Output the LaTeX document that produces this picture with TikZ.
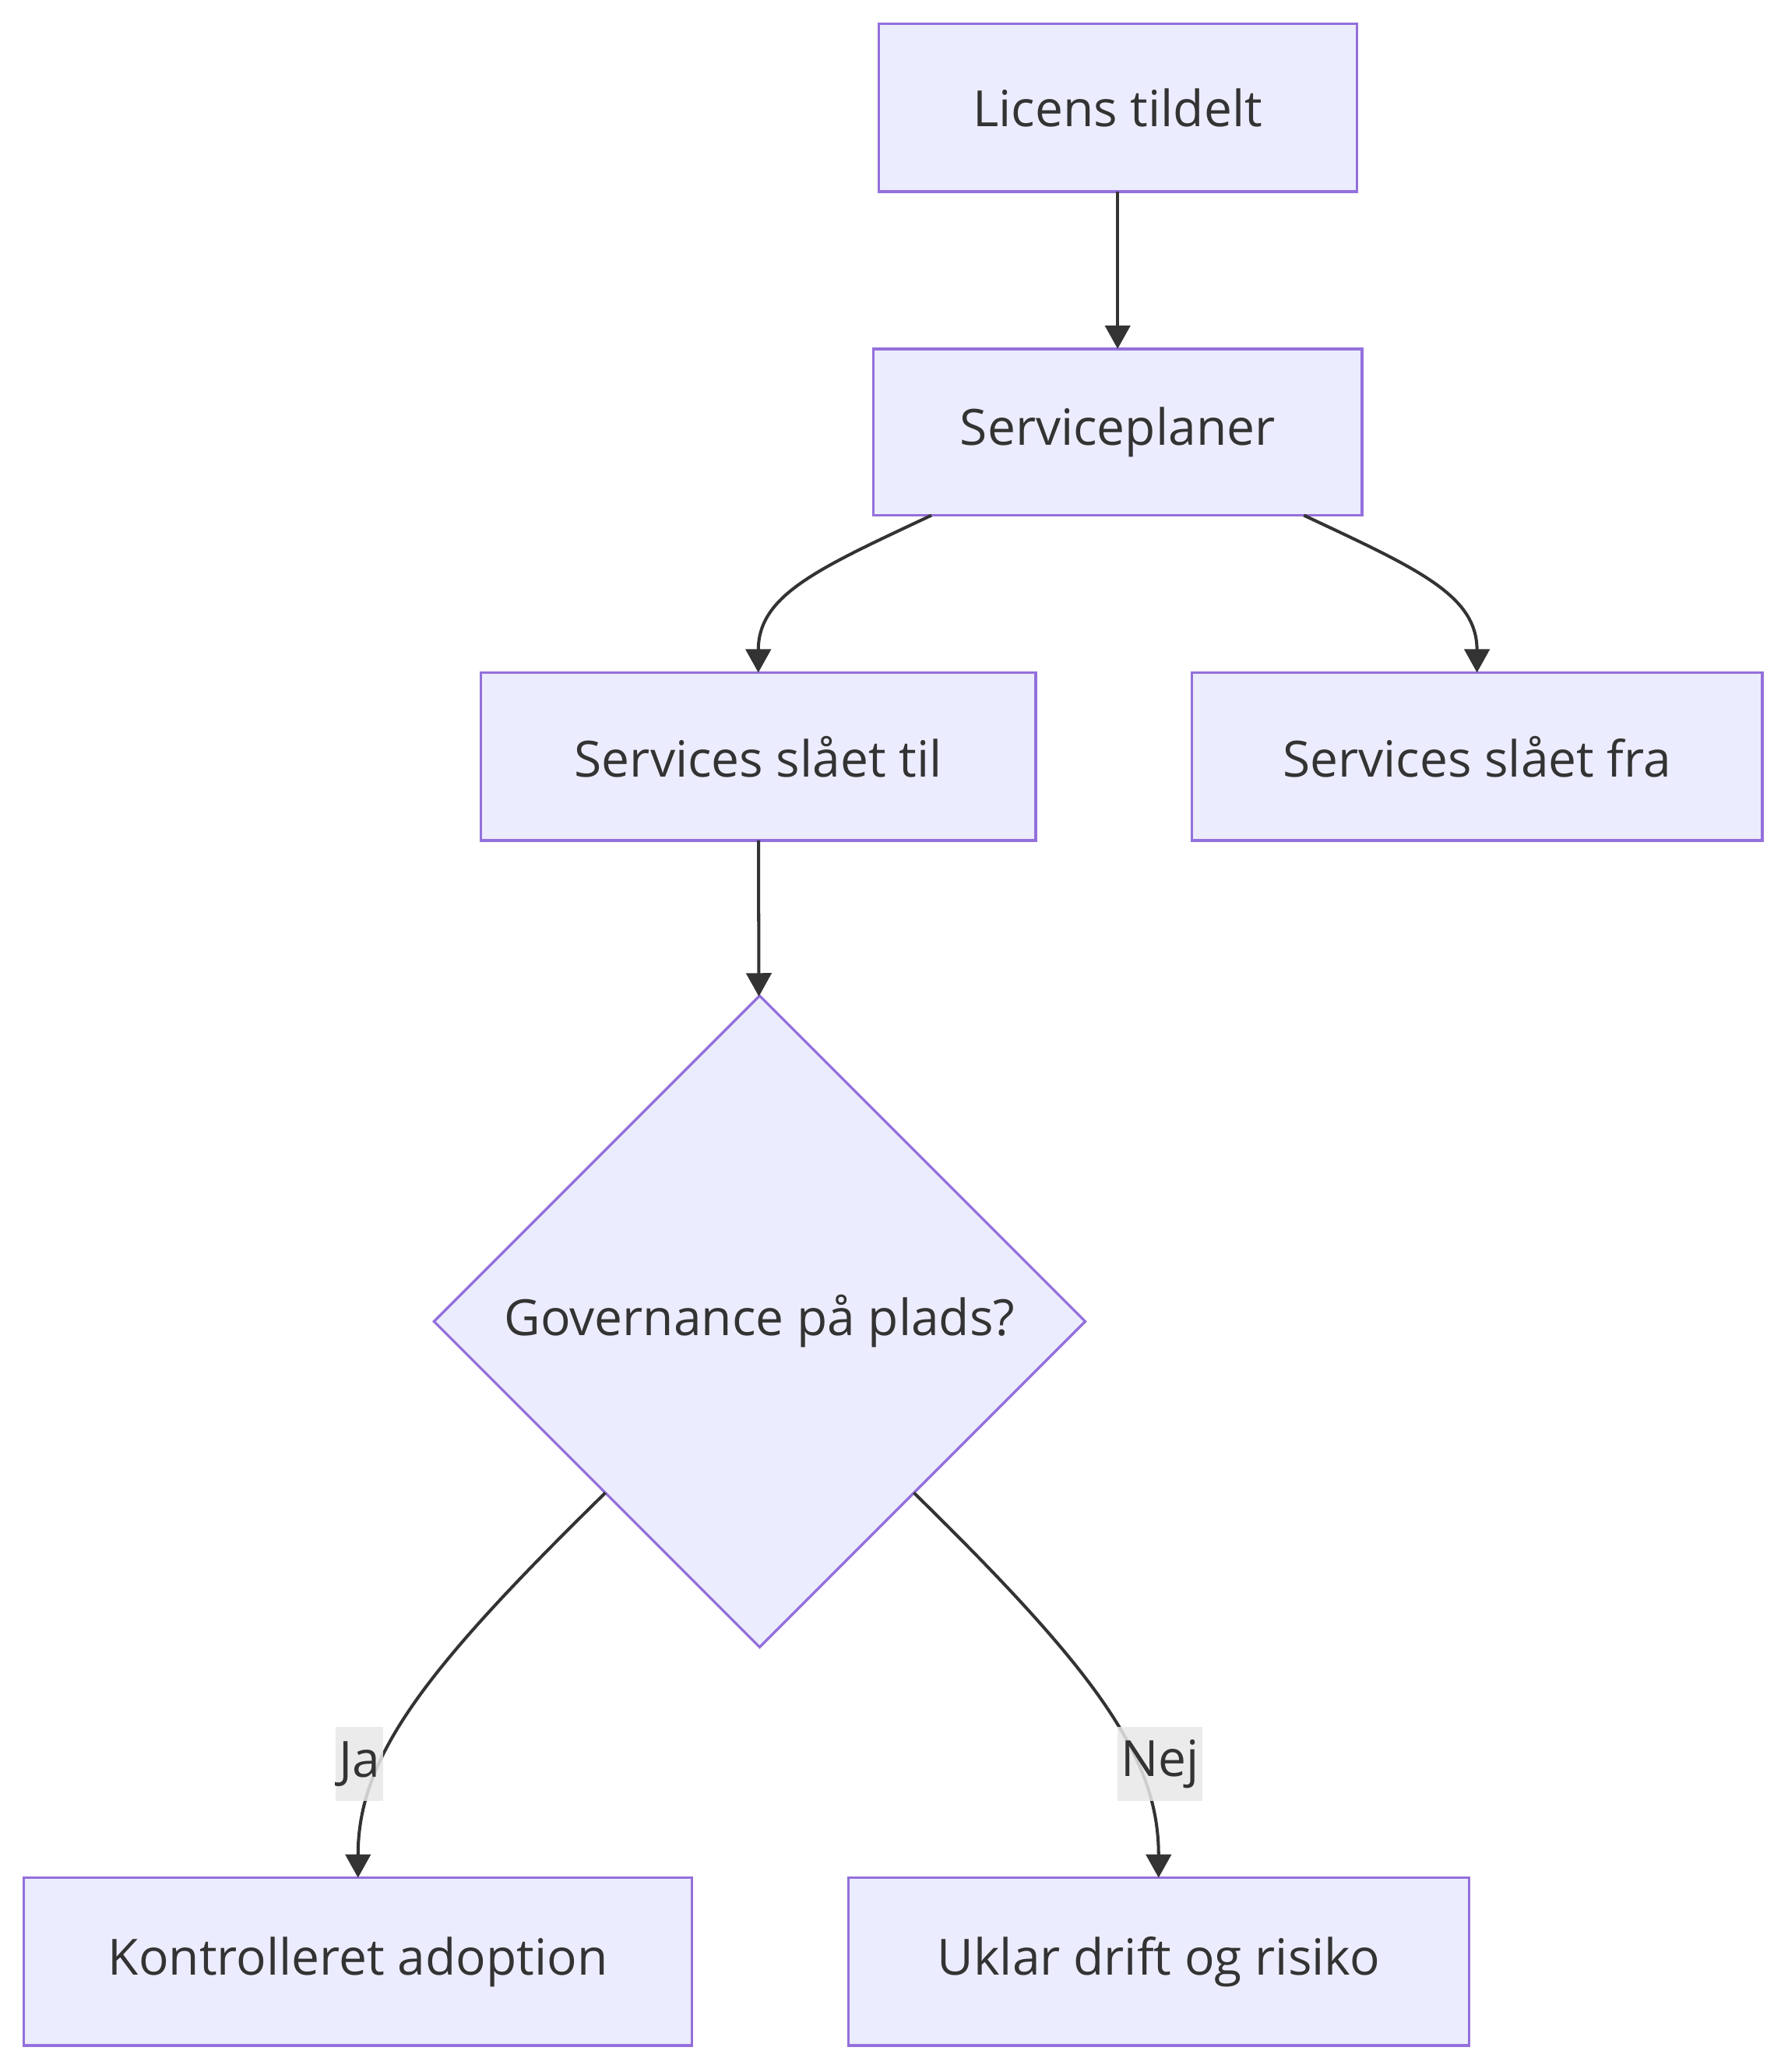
\documentclass[tikz,border=0pt]{standalone}
\usepackage{fontspec}
\setmainfont{Open Sans}
\usepackage{xcolor}
\usetikzlibrary{positioning, arrows.meta, calc, shapes.geometric}
\definecolor{boxfill}{HTML}{ECECFF}
\definecolor{boxline}{HTML}{9370DB}
\definecolor{ink}{HTML}{333333}
\definecolor{lblbg}{HTML}{E8E8E8}

\begin{document}
\begin{tikzpicture}[x=0.02cm, y=-0.02cm,
    font=\fontsize{21.5}{25}\selectfont, text=ink,
    stepbox/.style={draw=boxline, fill=boxfill, line width=1.1pt, minimum height=2.54cm, inner sep=0pt, outer sep=0pt},
    decide/.style={diamond, draw=boxline, fill=boxfill, line width=1.1pt, minimum width=9.86cm, minimum height=9.86cm, inner sep=0pt, outer sep=0pt},
    flow/.style={draw=ink, line width=1.35pt, -{Triangle[length=0.354cm, width=0.38cm]}},
    lbl/.style={fill=lblbg, fill opacity=0.85, text opacity=1, inner xsep=1.5pt, minimum height=1.12cm}
  ]
    \useasboundingbox (0,0) rectangle (1353,1568);

    % nodes
    \node[stepbox, minimum width=7.24cm] (lic) at (846,81.5) {Licens tildelt};
    \node[stepbox, minimum width=7.4cm, minimum height=2.52cm] (plan) at (846,327) {Serviceplaner};
    \node[stepbox, minimum width=8.4cm] (on) at (574,572.5) {Services slået til};
    \node[stepbox, minimum width=8.64cm] (off) at (1118,572.5) {Services slået fra};
    \node[decide] (gov) at (575,1000) {Governance på plads?};
    \node[stepbox, minimum width=10.12cm] (ok) at (271,1484.5) {Kontrolleret adoption};
    \node[stepbox, minimum width=9.4cm] (risk) at (877,1484.5) {Uklar drift og risiko};

    % connectors
    \draw[flow] (lic) -- (plan);
    \draw[flow] ([xshift=-2.82cm]plan.south) .. controls (620,430) and (574,450) .. (on.north);
    \draw[flow] ([xshift=2.82cm]plan.south) .. controls (1072,430) and (1118,450) .. (off.north);
    \draw[flow] (on) -- (gov);
    \draw[flow] (gov.228) .. controls (320,1265) and (271,1330) .. (ok.north);
    \draw[flow] (gov.-48) .. controls (830,1265) and (877,1330) .. (risk.north);

    % edge labels
    \node[lbl] (ja) at (272,1335) {Ja};
    \node[lbl] (nej) at (878,1335) {Nej};
  \end{tikzpicture}
\end{document}
